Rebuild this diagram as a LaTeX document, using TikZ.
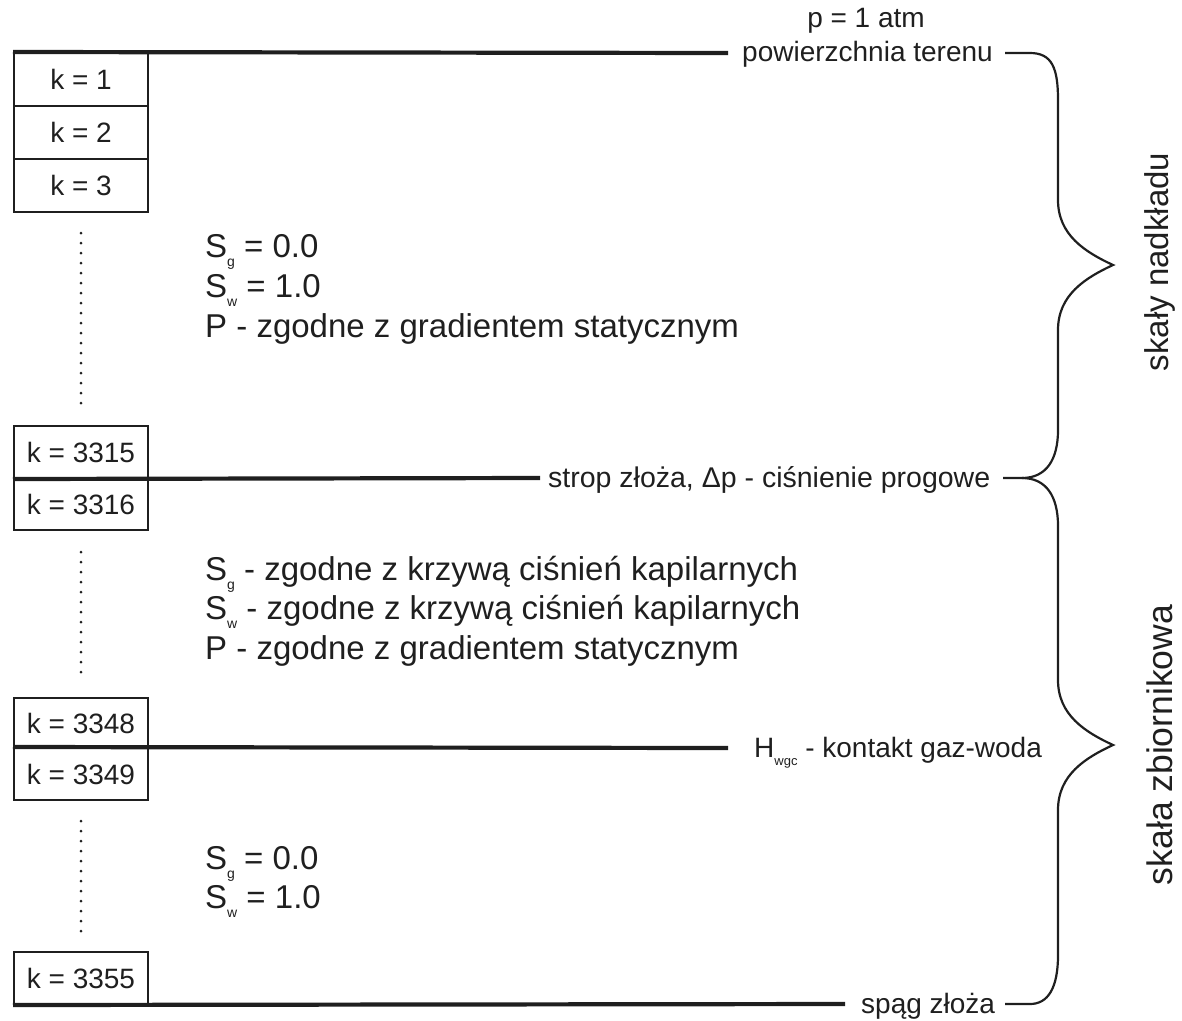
\documentclass[tikz,border=0pt]{standalone}
\usepackage{fontspec}
\setmainfont{Liberation Sans}
\begin{document}
\newcommand\lowidx[1]{\raisebox{-0.3em}{\fontsize{14}{14}\selectfont #1}}
\begin{tikzpicture}[x=1pt,y=-1pt,
  ink/.style={color=black!88},
  layerbox/.style={draw, ink, line width=2pt, minimum width=134pt, inner sep=0pt,
    font=\fontsize{28}{28}\selectfont},
  horizon/.style={ink, line width=4.2pt},
  dotline/.style={ink, line width=3pt, line cap=round, dash pattern=on 0pt off 10pt},
  brace/.style={ink, line width=2.2pt},
  sidelabel/.style={ink, anchor=base west, inner sep=0pt, font=\fontsize{28}{28}\selectfont},
  blocktext/.style={ink, anchor=base west, inner sep=0pt, font=\fontsize{33}{33}\selectfont},
  zone/.style={ink, rotate=90, inner sep=0pt}]
\useasboundingbox (0,0) rectangle (1182,1020);

% grid cells of the column
\node[layerbox, minimum height=53pt] (k1) at (81,79.5) {k = 1};
\node[layerbox, minimum height=53pt] (k2) at (81,132.5) {k = 2};
\node[layerbox, minimum height=53pt] (k3) at (81,185.5) {k = 3};
\node[layerbox, minimum height=52pt] (k3315) at (81,452) {k = 3315};
\node[layerbox, minimum height=52pt] (k3316) at (81,504) {k = 3316};
\node[layerbox, minimum height=50pt] (k3348) at (81,723) {k = 3348};
\node[layerbox, minimum height=52pt] (k3349) at (81,774) {k = 3349};
\node[layerbox, minimum height=52pt] (k3355) at (81,978) {k = 3355};

% omitted cells
\draw[dotline] ([yshift=-20pt]k3.south) -- ([yshift=20pt]k3315.north);
\draw[dotline] ([yshift=-21pt]k3316.south) -- ([yshift=18pt]k3348.north);
\draw[dotline] ([yshift=-20pt]k3349.south) -- ([yshift=17pt]k3355.north);

% boundaries
\coordinate (surfEnd) at (728,53);
\coordinate (topEnd) at (540,478);
\coordinate (gwcEnd) at (728,748);
\coordinate (baseEnd) at (845,1004);
\draw[horizon] (k1.north west) -- (surfEnd);
\draw[horizon] (k3315.south west) -- (topEnd);
\draw[horizon] (k3349.north west) -- (gwcEnd);
\draw[horizon] (k3355.south west) -- (baseEnd);

% boundary labels
\node[ink, inner sep=0pt, anchor=base, font=\fontsize{28}{28}\selectfont] (patm) at (866,27) {p = 1 atm};
\node[sidelabel] (surf) at (742,61) {powierzchnia terenu};
\node[sidelabel, font=\fontsize{28.5}{28.5}\selectfont] (top) at (548,487) {strop złoża, Δp - ciśnienie progowe};
\node[sidelabel] (gwc) at (754,757) {H\lowidx{\fontsize{13}{13}\selectfont wgc} - kontakt gaz-woda};
\node[sidelabel] (base) at (861,1013) {spąg złoża};

% cell values
\node[blocktext] (sg1) at (205,257) {S\lowidx{g} = 0.0};
\node[blocktext] (sw1) at (205,297) {S\lowidx{w} = 1.0};
\node[blocktext] (p1) at (205,337) {P - zgodne z gradientem statycznym};
\node[blocktext] (sg2) at (205,580) {S\lowidx{g} - zgodne z krzywą ciśnień kapilarnych};
\node[blocktext] (sw2) at (205,619) {S\lowidx{w} - zgodne z krzywą ciśnień kapilarnych};
\node[blocktext] (p2) at (205,659) {P - zgodne z gradientem statycznym};
\node[blocktext] (sg3) at (205,869) {S\lowidx{g} = 0.0};
\node[blocktext] (sw3) at (205,908) {S\lowidx{w} = 1.0};

% braces
\coordinate (bTop) at (1005,53);
\coordinate (bMid) at (1003,478);
\coordinate (bBot) at (1005,1004);
\coordinate (tipA) at (1113,265);
\coordinate (tipB) at (1113,745);
\draw[brace] (bTop) -- ++(25,0) .. controls (1052,53) and (1058,68) .. (1058,100)
  -- (1058,200) .. controls (1058,235) and (1085,252) .. (tipA)
  .. controls (1085,278) and (1058,295) .. (1058,330)
  -- (1058,430) .. controls (1058,460) and (1046,478) .. (1022,478) -- (bMid);
\draw[brace] (1022,478) .. controls (1046,478) and (1058,496) .. (1058,526)
  -- (1058,680) .. controls (1058,715) and (1085,732) .. (tipB)
  .. controls (1085,758) and (1058,775) .. (1058,810)
  -- (1058,955) .. controls (1058,988) and (1048,1004) .. (1030,1004) -- (bBot);

% zone names
\node[zone, font=\fontsize{33}{33}\selectfont] (over) at (1160,262) {skały nadkładu};
\node[zone, font=\fontsize{35.5}{35.5}\selectfont] (res) at (1160,745) {skała zbiornikowa};
\end{tikzpicture}
\end{document}
